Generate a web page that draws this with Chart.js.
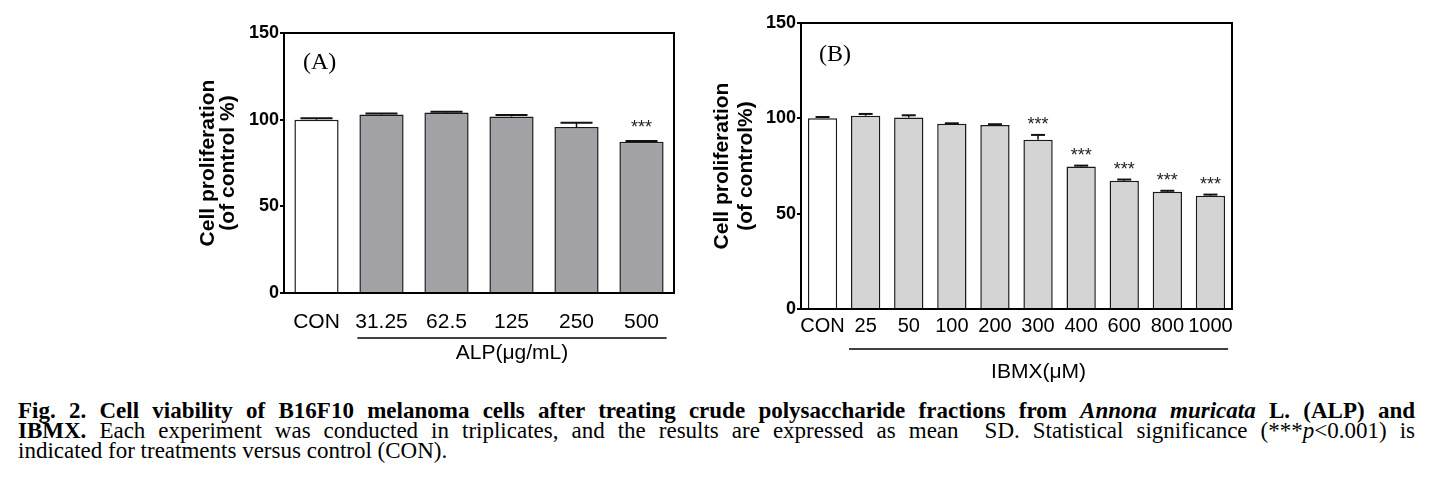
<!DOCTYPE html>
<html>
<head>
<meta charset="utf-8">
<script src="https://cdn.jsdelivr.net/npm/chart.js@4.4.1/dist/chart.umd.min.js"></script>
<style>
  html, body { margin: 0; padding: 0; background: #fff; }
  body { width: 1430px; height: 497px; position: relative; overflow: hidden; }
  canvas { position: absolute; }
  #chartA { left: 170px; top: 20px; }
  #chartB { left: 690px; top: 5px; }
  .cap { position: absolute; left: 18px; width: 1397px; font-family: "Liberation Serif", "Times New Roman", serif;
         font-size: 23px; line-height: 20px; color: #000; }
  .just { text-align: justify; text-align-last: justify; }
</style>
</head>
<body>
<canvas id="chartA" width="520" height="360"></canvas>
<canvas id="chartB" width="560" height="380"></canvas>

<div class="cap just" style="top:401px"><b>Fig. 2. Cell viability of B16F10 melanoma cells after treating crude polysaccharide fractions from <i>Annona muricata</i> L. (ALP) and</b></div>
<div class="cap just" style="top:421px"><b>IBMX.</b> Each experiment was conducted in triplicates, and the results are expressed as mean&nbsp; SD. Statistical significance (***<i>p</i>&lt;0.001) is</div>
<div class="cap" style="top:441px">indicated for treatments versus control (CON).</div>

<script>
// ===== DATA =====
const labelsA = ["CON", "31.25", "62.5", "125", "250", "500"];
const meanA = [100, 103.0, 104.2, 101.8, 95.7, 87.2];
const sdA = [0.8, 0.6, 0.4, 0.9, 2.5, 0.5];
const sigA = ["", "", "", "", "", "***"];

const labelsB = ["CON", "25", "50", "100", "200", "300", "400", "600", "800", "1000"];
const meanB = [100.1, 101.4, 100.4, 97.1, 96.5, 88.8, 74.7, 67.2, 61.5, 59.4];
const sdB = [0.6, 0.9, 1.2, 0.3, 0.4, 2.5, 0.5, 0.7, 0.5, 0.6];
const sigB = ["", "", "", "", "", "***", "***", "***", "***", "***"];

const yTicks = [0, 50, 100, 150];

// ===== ERROR BARS, STARS, FRAME, GROUP LINE =====
const panelDeco = {
    id: "panelDeco",
    afterDatasetsDraw(chart, args, o) {
        const ctx = chart.ctx;
        const area = chart.chartArea;
        const y = chart.scales.y;
        const bars = chart.getDatasetMeta(0).data;
        const means = chart.data.datasets[0].data;
        ctx.save();

        // top + right of the box
        ctx.strokeStyle = "#000";
        ctx.lineWidth = 2;
        ctx.beginPath();
        ctx.moveTo(area.left - 1, area.top);
        ctx.lineTo(area.right, area.top);
        ctx.lineTo(area.right, area.bottom + 1);
        ctx.stroke();

        // SD (upper only)
        bars.forEach((bar, i) => {
            const top = y.getPixelForValue(means[i]);
            const hi = y.getPixelForValue(means[i] + o.sd[i]);
            ctx.strokeStyle = "#111";
            ctx.lineWidth = 1.5;
            ctx.beginPath();
            ctx.moveTo(bar.x, top);
            ctx.lineTo(bar.x, hi);
            ctx.stroke();
            ctx.lineWidth = 2;
            ctx.beginPath();
            ctx.moveTo(bar.x - o.cap, hi);
            ctx.lineTo(bar.x + o.cap, hi);
            ctx.stroke();

            if (o.sig[i]) {
                ctx.fillStyle = "#222";
                ctx.font = "18px 'Liberation Sans', Arial, sans-serif";
                ctx.textAlign = "center";
                ctx.textBaseline = "alphabetic";
                ctx.fillText(o.sig[i], bar.x, hi - o.starGap + 10);
            }
        });

        // line under treated groups + its label
        const first = bars[1], last = bars[bars.length - 1];
        const x0 = first.x - first.width / 2 - 2;
        const x1 = last.x + last.width / 2 + 3;
        ctx.strokeStyle = "#000";
        ctx.lineWidth = 1.5;
        ctx.beginPath();
        ctx.moveTo(x0, area.bottom + o.lineOff);
        ctx.lineTo(x1, area.bottom + o.lineOff);
        ctx.stroke();
        ctx.fillStyle = "#000";
        ctx.font = "21px 'Liberation Sans', Arial, sans-serif";
        ctx.textAlign = "center";
        ctx.textBaseline = "middle";
        ctx.fillText(o.group, (x0 + x1) / 2, area.bottom + o.groupOff);

        // panel tag
        ctx.font = "24px 'Liberation Serif', 'Times New Roman', serif";
        ctx.textAlign = "left";
        ctx.fillText(o.tag, area.left + o.tagDx, area.top + o.tagDy);
        ctx.restore();
    }
};

function makePanel(id, labels, means, fill, p) {
    return new Chart(document.getElementById(id), {
        type: "bar",
        data: {
            labels: labels,
            datasets: [{
                data: means,
                backgroundColor: labels.map((l, i) => i === 0 ? "#ffffff" : fill),
                borderColor: "#1a1a1a",
                borderWidth: 1.5,
                barPercentage: 0.68,
                categoryPercentage: 1.0
            }]
        },
        options: {
            responsive: false,
            animation: false,
            layout: { padding: { top: p.padTop, right: p.padRight, left: 0, bottom: 0 } },
            plugins: {
                legend: { display: false },
                tooltip: { enabled: false },
                panelDeco: p.deco
            },
            scales: {
                x: {
                    grid: { display: false, drawTicks: false },
                    border: { display: true, color: "#000", width: 2 },
                    ticks: {
                        color: "#000",
                        font: { family: "'Liberation Sans', Arial, sans-serif", size: p.xFont },
                        padding: p.xPad,
                        maxRotation: 0,
                        autoSkip: false
                    },
                    afterFit: s => { s.height = p.xHeight; }
                },
                y: {
                    min: 0,
                    max: 150,
                    afterBuildTicks: s => { s.ticks = yTicks.map(v => ({ value: v })); },
                    ticks: {
                        color: "#000",
                        font: { family: "'Liberation Sans', Arial, sans-serif", size: 18, weight: "bold" },
                        padding: 1
                    },
                    grid: { drawOnChartArea: false, color: "#000", lineWidth: 2, tickLength: 4 },
                    border: { color: "#000", width: 2 },
                    title: {
                        display: true,
                        text: p.yTitle,
                        color: "#000",
                        font: { family: "'Liberation Sans', Arial, sans-serif", size: 21, weight: "bold", lineHeight: p.titleLH / 21 },
                        padding: { top: p.titlePad, bottom: 0 }
                    },
                    afterFit: s => { s.width = p.yWidth; }
                }
            }
        },
        plugins: [panelDeco]
    });
}

makePanel("chartA", labelsA, meanA, "#a3a3a7", {
    padTop: 13, padRight: 16, xFont: 21, xPad: 17, xHeight: 87, yWidth: 114,
    yTitle: ["Cell proliferation", "(of control %)"], titleLH: 20, titlePad: 28,
    deco: { sd: sdA, sig: sigA, cap: 16, starGap: 18, lineOff: 45, groupOff: 60,
            group: "ALP(μg/mL)", tag: "(A)", tagDx: 19, tagDy: 29.5 }
});

makePanel("chartB", labelsB, meanB, "#d4d4d4", {
    padTop: 18, padRight: 18, xFont: 20, xPad: 5, xHeight: 76, yWidth: 111,
    yTitle: ["Cell proliferation", "(of control%)"], titleLH: 24, titlePad: 20,
    deco: { sd: sdB, sig: sigB, cap: 7, starGap: 15, lineOff: 40, groupOff: 63,
            group: "IBMX(μM)", tag: "(B)", tagDx: 18, tagDy: 32 }
});
</script>
</body>
</html>
